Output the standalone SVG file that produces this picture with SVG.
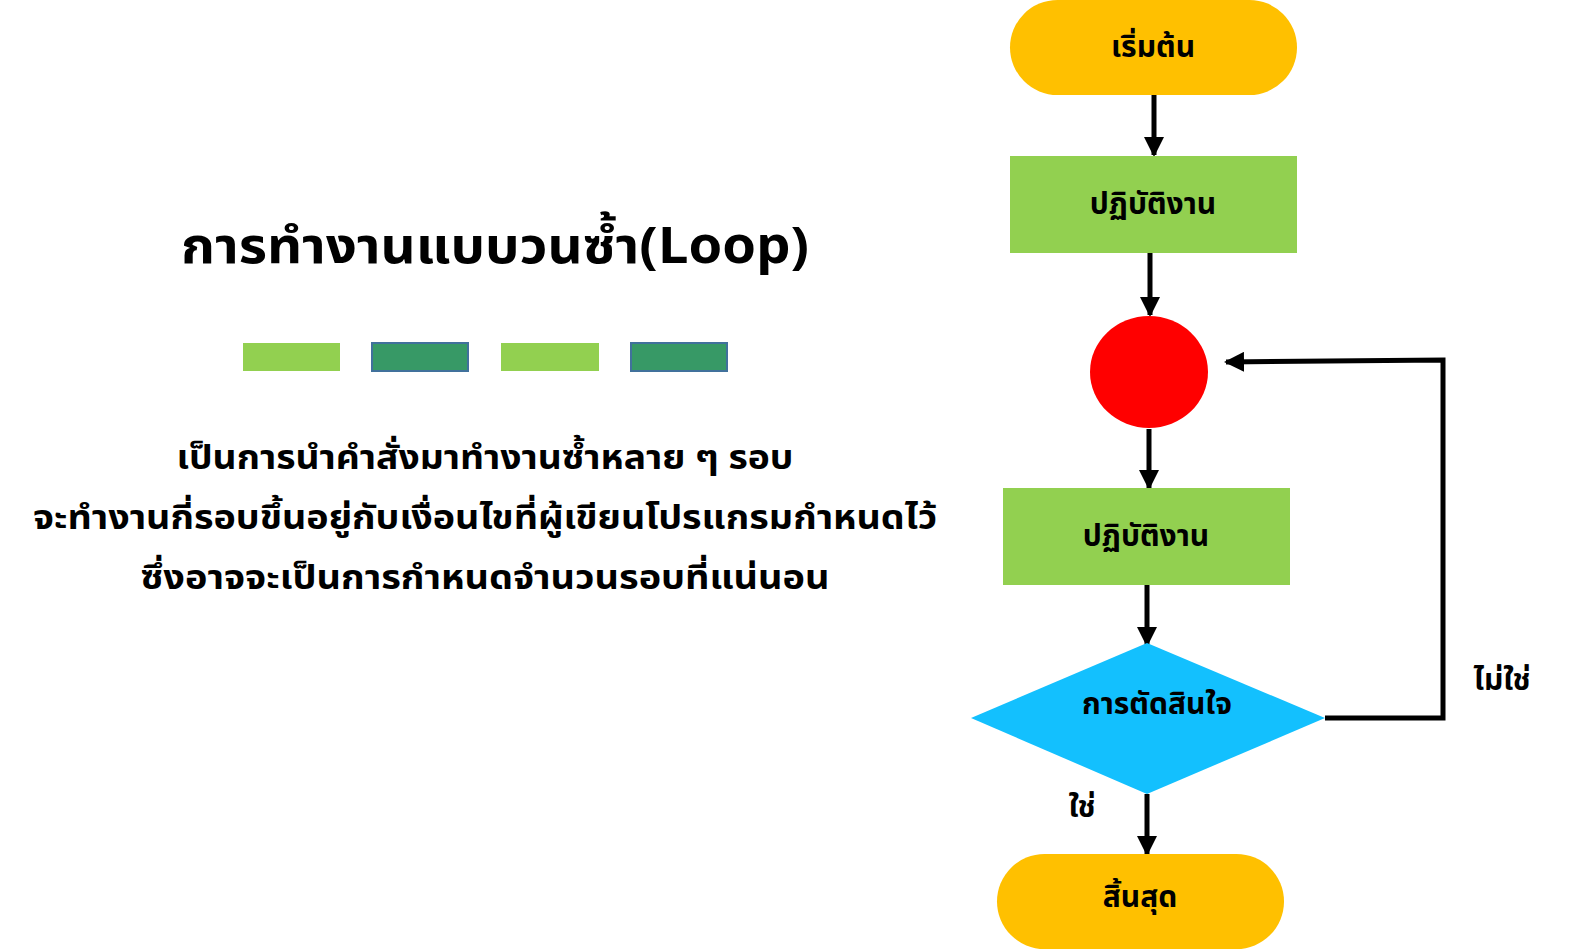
<svg xmlns="http://www.w3.org/2000/svg" width="1576" height="952" viewBox="0 0 1576 952">
<defs>
<style>
.th{font-family:"Noto Sans Thai","Noto Sans","DejaVu Sans",sans-serif;font-weight:bold;fill:#000;text-anchor:middle}
.node{font-size:30px}
.conn{stroke:#000;stroke-width:5;fill:none}
.lg{fill:#92D050}
.dg{fill:#379966;stroke:#41719C;stroke-width:2}
</style>
<marker id="ah" viewBox="0 0 10 10" refX="9" refY="5" markerWidth="4" markerHeight="4" orient="auto" markerUnits="strokeWidth">
<path d="M0,0 L10,5 L0,10 z" fill="#000"/>
</marker>
</defs>
<rect width="1576" height="952" fill="#fff"/>
<g id="title">
<text class="th" x="495" y="263" font-size="50" textLength="628" lengthAdjust="spacingAndGlyphs">การทำงานแบบวนซ้ำ(Loop)</text>
</g>
<g id="bars">
<rect class="lg" x="243" y="343" width="97" height="28"/>
<rect class="dg" x="372" y="343" width="96" height="28"/>
<rect class="lg" x="501" y="343" width="98" height="28"/>
<rect class="dg" x="631" y="343" width="96" height="28"/>
</g>
<g id="desc">
<text class="th" x="485" y="469" font-size="33" textLength="617" lengthAdjust="spacingAndGlyphs">เป็นการนำคำสั่งมาทำงานซ้ำหลาย ๆ รอบ</text>
<text class="th" x="485" y="529" font-size="33" textLength="904" lengthAdjust="spacingAndGlyphs">จะทำงานกี่รอบขึ้นอยู่กับเงื่อนไขที่ผู้เขียนโปรแกรมกำหนดไว้</text>
<text class="th" x="485" y="589" font-size="33" textLength="689" lengthAdjust="spacingAndGlyphs">ซึ่งอาจจะเป็นการกำหนดจำนวนรอบที่แน่นอน</text>
</g>
<g id="connectors">
<line class="conn" x1="1154" y1="95" x2="1154" y2="155" marker-end="url(#ah)"/>
<line class="conn" x1="1150" y1="253" x2="1150" y2="315" marker-end="url(#ah)"/>
<line class="conn" x1="1149" y1="429" x2="1149" y2="488" marker-end="url(#ah)"/>
<line class="conn" x1="1147" y1="585" x2="1147" y2="645" marker-end="url(#ah)"/>
<line class="conn" x1="1147" y1="794" x2="1147" y2="854" marker-end="url(#ah)"/>
<polyline class="conn" points="1325,718 1443,718 1443,360 1226,362" marker-end="url(#ah)"/>
</g>
<g id="start">
<rect x="1010" y="0" width="287" height="95" rx="47.5" fill="#FFC000"/>
<text class="th node" x="1153" y="57">เริ่มต้น</text>
</g>
<g id="process1">
<rect x="1010" y="156" width="287" height="97" fill="#92D050"/>
<text class="th node" x="1153" y="214">ปฏิบัติงาน</text>
</g>
<g id="connector-circle">
<ellipse cx="1149" cy="372" rx="59" ry="56" fill="#FF0000"/>
</g>
<g id="process2">
<rect x="1003" y="488" width="287" height="97" fill="#92D050"/>
<text class="th node" x="1146" y="546">ปฏิบัติงาน</text>
</g>
<g id="decision">
<polygon points="1147,643 1325,718 1147,794 971,718" fill="#13C0FE"/>
<text class="th node" x="1157" y="714">การตัดสินใจ</text>
</g>
<g id="end">
<rect x="997" y="854" width="287" height="95" rx="47.5" fill="#FFC000"/>
<text class="th node" x="1140" y="907">สิ้นสุด</text>
</g>
<g id="labels">
<text class="th node" x="1502" y="690">ไม่ใช่</text>
<text class="th node" x="1082" y="817">ใช่</text>
</g>
</svg>
